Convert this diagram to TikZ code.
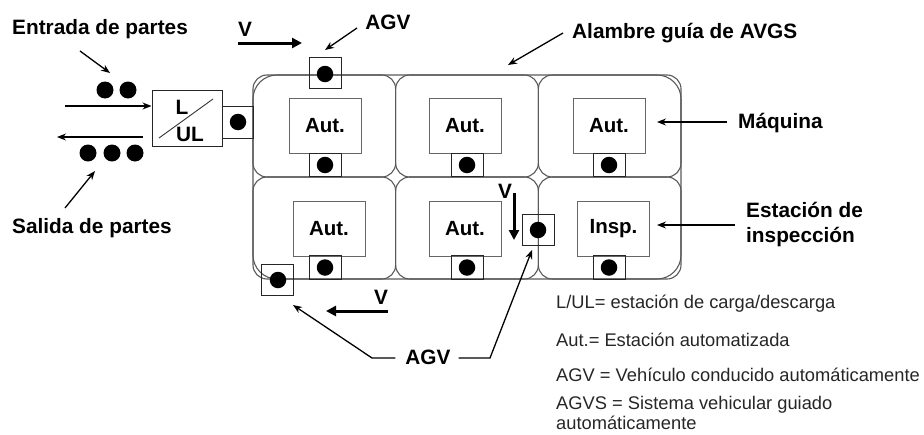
\documentclass[tikz,border=0pt]{standalone}
\usepackage{fontspec}
\setmainfont{Liberation Sans}
\usetikzlibrary{arrows.meta}
\begin{document}
\begin{tikzpicture}[x=1pt,y=-1pt,
  track/.style={draw=black!65, line width=1.1pt},
  cell/.style={track, rounded corners=14pt, minimum width=142.67pt, minimum height=102pt, inner sep=0pt},
  mach/.style={draw=black!60, line width=1pt, fill=white, minimum width=72pt, minimum height=55pt, inner sep=0pt, font=\fontsize{20.5}{24}\selectfont\bfseries},
  port/.style={draw=black!85, line width=1pt, minimum width=32pt, minimum height=23.5pt, inner sep=0pt},
  agvbox/.style={draw=black!85, line width=1pt, minimum width=32pt, minimum height=31pt, inner sep=0pt},
  blob/.style={circle, fill=black, minimum size=16.5pt, inner sep=0pt},
  lbl/.style={inner sep=0pt, font=\fontsize{20.8}{25}\selectfont\bfseries},
  leg/.style={inner sep=0pt, anchor=west, align=left, font=\fontsize{18.3}{20}\selectfont, text=black!85},
  ptr/.style={-{Stealth[length=9pt,width=7pt]}, line width=1.3pt},
  vel/.style={-{Triangle[length=10pt,width=10pt]}, line width=3pt},
]
\useasboundingbox (0,0) rectangle (924,434);

% cells of the guide wire
\node[cell] (c11) at (324.33,126) {};
\node[cell] (c12) at (467,126) {};
\node[cell] (c13) at (609.67,126) {};
\node[cell] (c21) at (324.33,228) {};
\node[cell] (c22) at (467,228) {};
\node[cell] (c23) at (609.67,228) {};
\node[track, rounded corners=24pt, minimum width=428pt, minimum height=204pt, inner sep=0pt] (outer) at (467,177) {};

% machines
\node[mach] (m11) at (325,125.5) {Aut.};
\node[mach] (m12) at (465,125.5) {Aut.};
\node[mach] (m13) at (609,125.5) {Aut.};
\node[mach] (m21) at (329,228.5) {Aut.};
\node[mach] (m22) at (465,228.5) {Aut.};
\node[mach] (m23) at (613.5,228.5) {Insp.};

% ports below machines
\foreach \n/\x/\y in {p11/325/165, p12/467/165, p13/609/165, p21/325/267.5, p22/467/267.5, p23/609/267.5}{
  \node[port] (\n) at (\x,\y) {};
  \node[blob] at (\n) {};
}

% L/UL station
\node[draw=black!85, line width=1pt, minimum width=70pt, minimum height=56pt, inner sep=0pt] (lul) at (187,118) {};
\draw[line width=0.9pt, black!80] (159,138) -- (213,99);
\node[lbl] at (182,107) {L};
\node[lbl] at (190,134) {UL};
\node[port, minimum height=32pt, minimum width=31pt] (lulport) at (237.5,122) {};
\node[blob] (lulblob) at (238,122) {};

% AGVs
\node[agvbox] (agv1) at (325,72.5) {};
\node[blob] (agv1d) at (325,74) {};
\node[agvbox] (agv2) at (277.5,280) {};
\node[blob] (agv2d) at (278,280) {};
\node[agvbox] (agv3) at (538,230) {};
\node[blob] (agv3d) at (538,230) {};

% parts
\foreach \x in {105,128}{\node[blob, minimum size=17pt] at (\x,90) {};}
\foreach \x in {88,112,135}{\node[blob, minimum size=17pt] at (\x,153) {};}
\coordinate (inS) at (65,106);
\coordinate (outE) at (143,137);
\coordinate (outW) at (57,137);
\draw[ptr, line width=1.2pt] (inS) -- (lul.west |- inS);
\draw[ptr, line width=1.2pt] (outE) -- (outW);

% labels
\node[lbl, anchor=west] (entrada) at (12,29) {Entrada de partes};
\node[lbl, anchor=west] (salida) at (12,228) {Salida de partes};
\node[lbl] (agvtop) at (388,22) {AGV};
\node[lbl, anchor=west] (alambre) at (572,33) {Alambre guía de AVGS};
\node[lbl, anchor=west] (maquina) at (738,123) {Máquina};
\node[lbl, anchor=west, align=left] (insp) at (746,225) {Estación de\\inspección};
\node[lbl] (agvbot) at (428,357) {AGV};

\draw[ptr] (80,51) -- (110,73);
\draw[ptr] (65,208) -- (95,171);
\draw[ptr] (357,28) -- (325,50);
\draw[ptr] (563,33) -- (508,65);
\draw[ptr] (727,122) -- (657,122);
\draw[ptr] (735,225) -- (657,225);
\draw[ptr] (agvbot.west) ++(-10,1) -- (372,358) -- (293,305);
\draw[ptr] (agvbot.east) ++(8,1) -- (490,358) -- (532,250);

% velocities
\node[lbl] (v1) at (245,29) {V};
\draw[vel] (238,43) -- (302,43);
\node[lbl] (v2) at (505,191) {V};
\draw[vel] (514,193) -- (514,240);
\node[lbl] (v3) at (381,297) {V};
\draw[vel] (388,311) -- (326,311);

% legend
\node[leg] (l1) at (556,304) {L/UL= estación de carga/descarga};
\node[leg] (l2) at (556,340) {Aut.= Estación automatizada};
\node[leg] (l3) at (556,375) {AGV = Vehículo conducido automáticamente};
\node[leg] (l4) at (556,413) {AGVS = Sistema vehicular guiado\\automáticamente};
\end{tikzpicture}
\end{document}
